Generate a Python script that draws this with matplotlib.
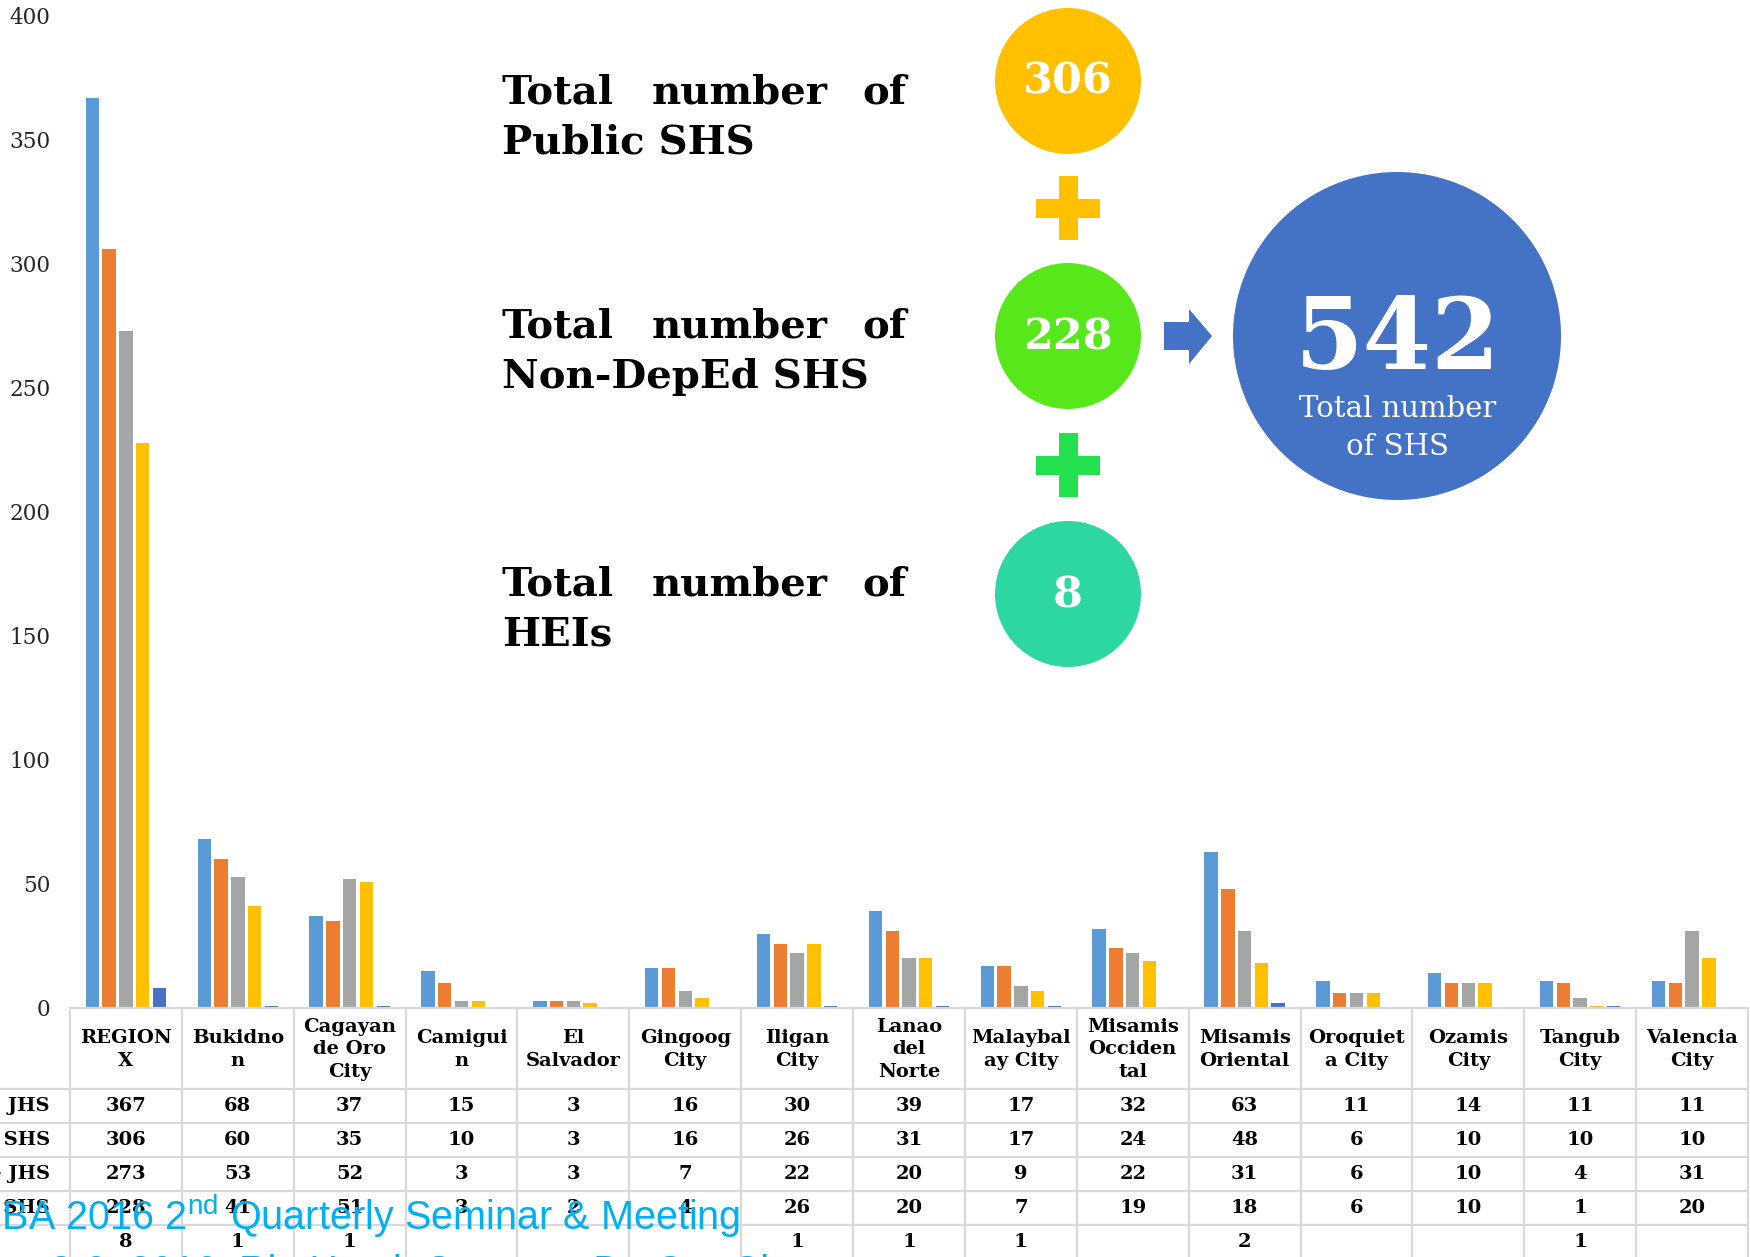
import numpy as np
import matplotlib.pyplot as plt
from matplotlib.patches import Circle, Rectangle, Polygon
from matplotlib.lines import Line2D
from matplotlib.transforms import blended_transform_factory

# canvas size in pixels
W, H = 1750, 1257

# ---- data ----
divisions = ["REGION\nX", "Bukidno\nn", "Cagayan\nde Oro\nCity", "Camigui\nn", "El\nSalvador",
             "Gingoog\nCity", "Iligan\nCity", "Lanao\ndel\nNorte", "Malaybal\nay City",
             "Misamis\nOcciden\ntal", "Misamis\nOriental", "Oroquiet\na City", "Ozamis\nCity",
             "Tangub\nCity", "Valencia\nCity"]
public_jhs = [367, 68, 37, 15, 3, 16, 30, 39, 17, 32, 63, 11, 14, 11, 11]
public_shs = [306, 60, 35, 10, 3, 16, 26, 31, 17, 24, 48, 6, 10, 10, 10]
private_jhs = [273, 53, 52, 3, 3, 7, 22, 20, 9, 22, 31, 6, 10, 4, 31]
private_shs = [228, 41, 51, 3, 2, 4, 26, 20, 7, 19, 18, 6, 10, 1, 20]
heis = [8, 1, 1, None, None, None, 1, 1, 1, None, 2, None, None, 1, None]
series_names = ["Public JHS", "Public SHS", "Private JHS", "Private SHS", ""]
series_colors = ["#5B9BD5", "#ED7D31", "#A5A5A5", "#FFC000", "#4472C4"]
yticks = list(range(0, 401, 50))

total_labels = [("Total   number   of", "Public SHS"),
                ("Total   number   of", "Non-DepEd SHS"),
                ("Total   number   of", "HEIs")]
total_values = [306, 228, 8]
total_colors = ["#FFC000", "#57E81B", "#2ED6A3"]
plus_colors = ["#FFC000", "#22E04E"]
grand_total = 542

all_series = [public_jhs, public_shs, private_jhs, private_shs, heis]

plt.rcParams['mathtext.fontset'] = 'custom'
plt.rcParams['mathtext.rm'] = 'Liberation Sans'

fig = plt.figure(figsize=(17.5, 12.57), dpi=100)

# bar axes, sits right on top of the table
ax_l, ax_r, ax_top, ax_base = 70, 1748, 16, 1008
ax = fig.add_axes([ax_l / W, 1 - ax_base / H, (ax_r - ax_l) / W, (ax_base - ax_top) / H])

n = len(divisions)
x = np.arange(n) + 0.5
step, bw = 0.15, 0.12
for k, (vals, c) in enumerate(zip(all_series, series_colors)):
    v = np.array([np.nan if s is None else s for s in vals], float)
    m = ~np.isnan(v)
    ax.bar(x[m] + (k - 2) * step, v[m], width=bw, color=c, linewidth=0)

ax.set_xlim(0, n)
ax.set_ylim(0, 400)
ax.set_yticks(yticks)
ax.set_xticks([])
ax.tick_params(axis='y', length=0, pad=14, labelsize=15.5, labelcolor='#262626')
for lab in ax.get_yticklabels():
    lab.set_family('DejaVu Serif')
for s in ax.spines.values():
    s.set_visible(False)

# overlay in pixel coordinates
ov = fig.add_axes([0, 0, 1, 1], zorder=3)
ov.set_autoscale_on(False)
ov.set_xlim(0, W)
ov.set_ylim(H, 0)
ov.axis('off')

# ---- data table under the bars ----
tt = blended_transform_factory(ax.transData, ov.transData)
cat_px = (ax_r - ax_l) / n
x_fig0 = -ax_l / cat_px
head_top, head_bot, row_h = 1008, 1089, 34
grid_c = '#D9D9D9'
tfont = dict(family='DejaVu Serif', weight='bold', fontsize=14, color='black')

ov.add_line(Line2D([0, n], [head_top, head_top], transform=tt, color=grid_c, lw=1.6))
n_rows = len(all_series)
for r in range(n_rows + 1):
    yy = head_bot + r * row_h
    ov.add_line(Line2D([x_fig0, n], [yy, yy], transform=tt, color=grid_c, lw=1.6))
for i in range(n + 1):
    ov.add_line(Line2D([i, i], [head_top, H + 50], transform=tt, color=grid_c, lw=1.6))

for i, name in enumerate(divisions):
    ov.text(i + 0.5, (head_top + head_bot) / 2 + 1, name, transform=tt, ha='center',
            va='center', linespacing=1.32, **tfont)
for r, (vals, lab) in enumerate(zip(all_series, series_names)):
    yc = head_bot + (r + 0.5) * row_h
    ov.text(-20 / cat_px, yc, lab, transform=tt, ha='right', va='center', **tfont)
    for i, v in enumerate(vals):
        if v is not None:
            ov.text(i + 0.5, yc, str(v), transform=tt, ha='center', va='center', **tfont)

# ---- infographic ----
cx, r_small = 1068, 73
cy_list = [81, 336, 594]
text_y = [103, 338, 595]
for (l1, l2), val, col, cy, ty in zip(total_labels, total_values, total_colors, cy_list, text_y):
    words = l1.split()
    kw = dict(family='DejaVu Serif', weight='bold', fontsize=29, color='black', va='baseline')
    ov.text(502, ty, words[0], ha='left', **kw)
    ov.text(740, ty, words[1], ha='center', **kw)
    ov.text(906, ty, words[2], ha='right', **kw)
    ov.text(502, ty + 50, l2, ha='left', **kw)
    ov.add_patch(Circle((cx, cy), r_small, color=col, lw=0))
    ov.text(cx, cy + 1, str(val), ha='center', va='center', color='white',
            family='DejaVu Serif', weight='bold', fontsize=31)

for pc, py in zip(plus_colors, [208, 465]):
    ov.add_patch(Rectangle((cx - 32, py - 9.5), 64, 19, color=pc, lw=0))
    ov.add_patch(Rectangle((cx - 9.5, py - 32), 19, 64, color=pc, lw=0))

ov.add_patch(Polygon([(1164, 322), (1189, 322), (1189, 309), (1212, 336),
                      (1189, 364), (1189, 350), (1164, 350)], closed=True,
                     color='#4472C4', lw=0))
ov.add_patch(Circle((1397, 336), 164, color='#4472C4', lw=0))
ov.text(1398, 369, str(grand_total), ha='center', va='baseline', color='white',
        family='DejaVu Serif', weight='bold', fontsize=71)
ov.text(1398, 417, "Total number", ha='center', va='baseline', color='white',
        family='DejaVu Serif', fontsize=21)
ov.text(1398, 455, "of SHS", ha='center', va='baseline', color='white',
        family='DejaVu Serif', fontsize=21)

# ---- seminar footer watermark ----
wm = dict(family='Liberation Sans', color='#00B0F0', fontsize=28.5, va='baseline', zorder=5)
ov.text(740, 1230, "PAGBA 2016 2$^{\\mathrm{nd}}$ Quarterly Seminar & Meeting", ha='right', **wm)
ov.text(800, 1284, "June 8-9, 2016, Rio Hotel, Cagayan De Oro City", ha='right', **wm)

fig.savefig("out.png", dpi=100)
